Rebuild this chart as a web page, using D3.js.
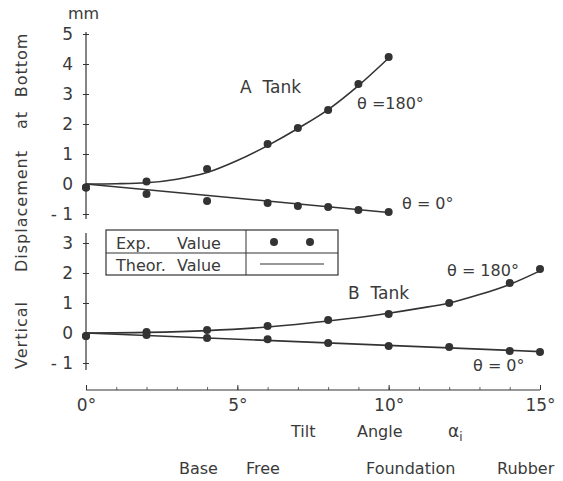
<!DOCTYPE html>
<html>
<head>
<meta charset="utf-8">
<script src="https://cdn.jsdelivr.net/npm/d3@7"></script>
<style>
body { margin: 0; background: #fff; }
text { font-family: "DejaVu Sans", sans-serif; fill: #3a3a3a; white-space: pre; }
</style>
</head>
<body>
<svg id="chart" width="563" height="481"></svg>
<script>
// A tank (upper panel)
var degA = [0, 2, 4, 6, 7, 8, 9, 10];
var expA180 = [-0.12, 0.08, 0.5, 1.33, 1.87, 2.47, 3.33, 4.23];
var expA0 = [-0.12, -0.33, -0.57, -0.63, -0.73, -0.77, -0.87, -0.93];
var theorDegA = [0, 1, 2, 3, 4, 5, 6, 7, 8, 9, 10];
var theorA180 = [0, 0.01, 0.04, 0.16, 0.38, 0.78, 1.28, 1.85, 2.48, 3.28, 4.2];
var theorA0 = [[0, 0], [10, -0.95]];

// B tank (lower panel)
var degB = [0, 2, 4, 6, 8, 10, 12, 14, 15];
var expB180 = [-0.1, 0.03, 0.1, 0.23, 0.43, 0.63, 1.0, 1.67, 2.13];
var expB0 = [-0.1, -0.07, -0.17, -0.21, -0.33, -0.43, -0.47, -0.6, -0.63];
var theorDegB = [0, 2, 4, 6, 8, 10, 11, 12, 13, 14, 15];
var theorB180 = [0, 0.02, 0.08, 0.2, 0.4, 0.66, 0.82, 1.0, 1.28, 1.62, 2.07];
var theorB0 = [[0, 0], [15, -0.62]];

var ticksA = [-1, 0, 1, 2, 3, 4, 5];
var ticksB = [-1, 0, 1, 2, 3];
var ticksX = [0, 5, 10, 15];

var ink = "#333";
var svg = d3.select("#chart");

var x = d3.scaleLinear().domain([0, 15]).range([86, 540]);
var yA = d3.scaleLinear().domain([-1, 5]).range([214, 34]);
var yB = d3.scaleLinear().domain([-1, 3]).range([363, 243]);

function fmt(d) { return d < 0 ? "- " + (-d) : d; }

function yAxis(scale, ticks, top, bottom) {
	var g = svg.append("g").attr("transform", "translate(86,0)")
		.call(d3.axisLeft(scale).tickValues(ticks).tickFormat(fmt).tickSize(4).tickPadding(9));
	g.select(".domain").remove();
	g.selectAll(".tick line").attr("x2", 3).attr("x1", -3).attr("stroke", ink);
	g.selectAll("text").style("font-size", "17px").attr("fill", "#3a3a3a");
	g.append("line").attr("x1", 0).attr("x2", 0).attr("y1", top).attr("y2", bottom)
		.attr("stroke", ink).attr("stroke-width", 1.2);
}
yAxis(yA, ticksA, 32, 219);
yAxis(yB, ticksB, 233, 370);

// x axis
var gx = svg.append("g").attr("transform", "translate(0,390)");
gx.append("g").call(d3.axisBottom(x).tickValues(d3.range(0, 16)).tickSize(-3).tickFormat(""))
	.call(function(g) { g.select(".domain").remove(); g.selectAll("line").attr("stroke", "#666"); });
gx.append("g").call(d3.axisBottom(x).tickValues(ticksX).tickSize(-5).tickPadding(9).tickFormat(function(d) { return d + "°"; }))
	.call(function(g) {
		g.select(".domain").remove();
		g.selectAll("line").attr("stroke", ink);
		g.selectAll("text").style("font-size", "17px").attr("fill", "#3a3a3a");
	});
gx.append("line").attr("x1", x(0)).attr("x2", x(15)).attr("stroke", ink).attr("stroke-width", 1.2);

function theorLine(scale, xs, ys) {
	var line = d3.line().x(function(d) { return x(d[0]); }).y(function(d) { return scale(d[1]); })
		.curve(d3.curveMonotoneX);
	svg.append("path").datum(d3.zip(xs, ys)).attr("d", line)
		.attr("fill", "none").attr("stroke", ink).attr("stroke-width", 1.6);
}
function straight(scale, pts) {
	var line = d3.line().x(function(d) { return x(d[0]); }).y(function(d) { return scale(d[1]); });
	svg.append("path").datum(pts).attr("d", line)
		.attr("fill", "none").attr("stroke", ink).attr("stroke-width", 1.6);
}
function dots(scale, xs, ys) {
	svg.append("g").selectAll("circle").data(d3.zip(xs, ys)).enter().append("circle")
		.attr("cx", function(d) { return x(d[0]); })
		.attr("cy", function(d) { return scale(d[1]); })
		.attr("r", 4).attr("fill", ink);
}

theorLine(yA, theorDegA, theorA180);
straight(yA, theorA0);
dots(yA, degA, expA180);
dots(yA, degA, expA0);

theorLine(yB, theorDegB, theorB180);
straight(yB, theorB0);
dots(yB, degB, expB180);
dots(yB, degB, expB0);

// labels
function label(txt, px, py, size, anchor) {
	return svg.append("text").attr("x", px).attr("y", py).attr("text-anchor", anchor || "start")
		.style("font-size", (size || 16) + "px").text(txt);
}
label("mm", 68, 19, 16);
label("A  Tank", 240, 93, 17);
label("θ =180°", 357, 109, 16);
label("θ = 0°", 402, 209, 16);
label("B  Tank", 348, 299, 17);
label("θ = 180°", 447, 276, 16);
label("θ = 0°", 473, 371, 16);

// y title, word by word
[["Bottom", 65], ["at", 120], ["Displacement", 211], ["Vertical", 335]].forEach(function(w) {
	svg.append("text").attr("transform", "translate(27," + w[1] + ") rotate(-90)")
		.attr("text-anchor", "middle").style("font-size", "16px").style("letter-spacing", "1px").text(w[0]);
});

// x title
label("Tilt", 291, 437, 16);
label("Angle", 357, 437, 16);
var alpha = label("α", 448, 437, 17);
alpha.append("tspan").attr("dy", 4).style("font-size", "12px").text("i");
label("Base", 179, 474, 16);
label("Free", 246, 474, 16);
label("Foundation", 366, 474, 16);
label("Rubber", 497, 474, 16);

// legend
var lg = svg.append("g");
lg.append("rect").attr("x", 106).attr("y", 230).attr("width", 232).attr("height", 45)
	.attr("fill", "#fff").attr("stroke", ink).attr("stroke-width", 1.2);
lg.append("line").attr("x1", 106).attr("x2", 338).attr("y1", 253).attr("y2", 253).attr("stroke", ink).attr("stroke-width", 1);
lg.append("line").attr("x1", 246).attr("x2", 246).attr("y1", 230).attr("y2", 275).attr("stroke", ink).attr("stroke-width", 1);
label("Exp.", 116, 249, 16);
label("Value", 177, 249, 16);
label("Theor.", 116, 271, 16);
label("Value", 177, 271, 16);
lg.selectAll("circle.lg").data([274, 310]).enter().append("circle")
	.attr("cx", function(d) { return d; }).attr("cy", 242).attr("r", 4).attr("fill", ink);
lg.append("line").attr("x1", 260).attr("x2", 324).attr("y1", 264).attr("y2", 264).attr("stroke", ink).attr("stroke-width", 1.2);
</script>
</body>
</html>
